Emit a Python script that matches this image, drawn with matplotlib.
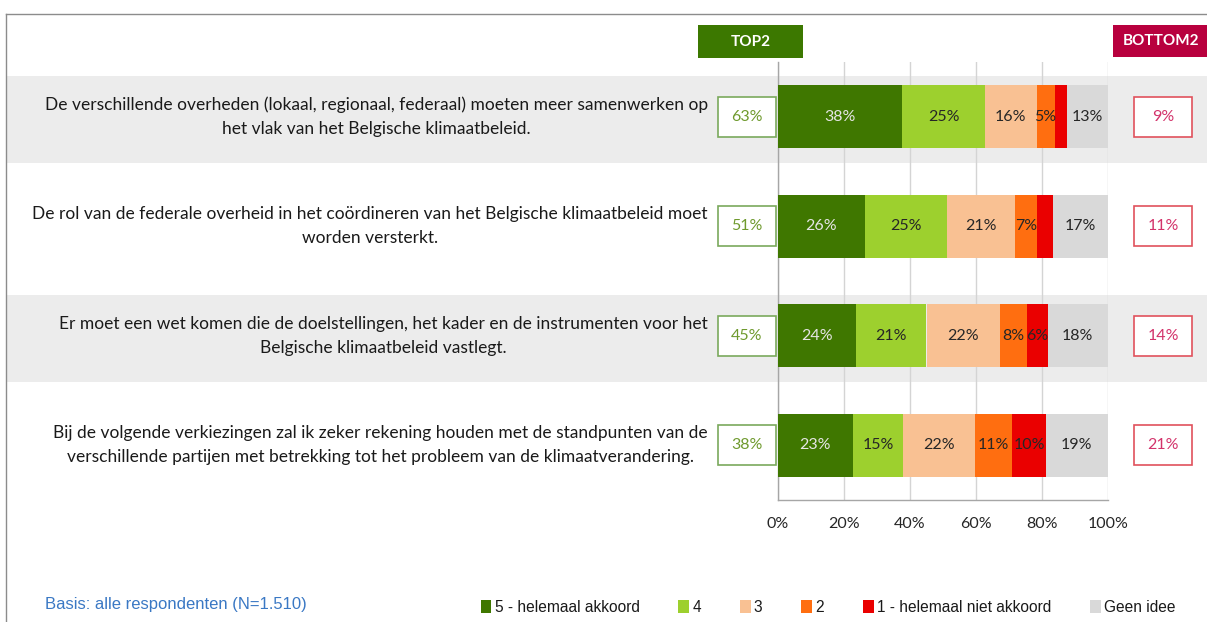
import matplotlib
matplotlib.use("Agg")
import matplotlib.pyplot as plt
from matplotlib.patches import Rectangle
from matplotlib.lines import Line2D
import matplotlib.transforms as mtransforms
import numpy as np

# ---------------- data ----------------
questions = [
    "De verschillende overheden (lokaal, regionaal, federaal) moeten meer samenwerken op\nhet vlak van het Belgische klimaatbeleid.",
    "De rol van de federale overheid in het coördineren van het Belgische klimaatbeleid moet\nworden versterkt.",
    "Er moet een wet komen die de doelstellingen, het kader en de instrumenten voor het\nBelgische klimaatbeleid vastlegt.",
    "Bij de volgende verkiezingen zal ik zeker rekening houden met de standpunten van de\nverschillende partijen met betrekking tot het probleem van de klimaatverandering.",
]
categories = ["5 - helemaal akkoord", "4", "3", "2", "1 - helemaal niet akkoord", "Geen idee"]
cat5 = [37.6, 26.3, 23.6, 22.6]
cat4 = [25.1, 24.8, 21.4, 15.4]
cat3 = [15.7, 20.7, 22.2, 21.7]
cat2 = [5.4, 6.8, 8.2, 11.3]
cat1 = [3.7, 4.6, 6.3, 10.1]
geen = [12.7, 16.8, 18.3, 18.9]
top2 = [63, 51, 45, 38]
bottom2 = [9, 11, 14, 21]
xticks = [0, 20, 40, 60, 80, 100]
xticklabels = ["0%", "20%", "40%", "60%", "80%", "100%"]

colors = ["#3f7700", "#9dd02e", "#f9c193", "#ff6e10", "#ea0000", "#d9d9d9"]
label_colors = ["#e6e6e6", "#262626", "#262626", "#262626", "#262626", "#262626"]

FONT = ["Lato", "DejaVu Sans"]
NARROW = ["Liberation Sans", "DejaVu Sans"]
plt.rcParams["font.family"] = FONT

W, H = 1207, 622
fig = plt.figure(figsize=(W / 100, H / 100), dpi=100)
fig.patch.set_facecolor("white")

ax_l, ax_r, ax_t, ax_b = 778, 1108, 62, 500
ax = fig.add_axes([ax_l / W, 1 - ax_b / H, (ax_r - ax_l) / W, (ax_b - ax_t) / H])
ax.set_facecolor("none")

series = [cat5, cat4, cat3, cat2, cat1, geen]
y = np.arange(len(questions))
left = np.zeros(len(questions))
bar_h = 0.575
for vals, col, lc in zip(series, colors, label_colors):
    vals = np.array(vals)
    bars = ax.barh(y, vals, left=left, height=bar_h, color=col, zorder=3, linewidth=0)
    for i, (b, v) in enumerate(zip(bars, vals)):
        if v >= 5:
            ax.text(left[i] + v / 2, y[i], f"{v:.0f}%", ha="center", va="center",
                    fontsize=11.5, color=lc, zorder=4)
    left = left + vals

ax.set_xlim(0, 100)
ax.set_ylim(3.5, -0.5)
ax.set_xticks(xticks)
ax.set_xticklabels(xticklabels, fontsize=11.5, color="#262626")
ax.set_yticks([])
ax.tick_params(axis="x", length=0, pad=12)
ax.grid(axis="x", color="#d4d4d4", linewidth=1, zorder=0)
ax.set_axisbelow(True)
for s in ["top", "right"]:
    ax.spines[s].set_visible(False)
for s in ["left", "bottom"]:
    ax.spines[s].set_color("#a6a6a6")
    ax.spines[s].set_linewidth(1)

# background bands
btrans = mtransforms.blended_transform_factory(fig.transFigure, ax.transData)
for i in [0, 2]:
    fig.add_artist(Rectangle((7 / W, i - 0.375), 1 - 7 / W, 0.795, transform=btrans,
                             facecolor="#ececec", edgecolor="none", zorder=-5))

# question text, top2/bottom2 boxes
for i, q in enumerate(questions):
    ax.text(-21.3, y[i], q, ha="right", va="center", multialignment="center",
            fontsize=12.5, color="#1a1a1a", linespacing=1.6, clip_on=False)
    ax.add_patch(Rectangle((-18.2, y[i] - 0.183), 17.6, 0.366, facecolor="white",
                           edgecolor="#7aa95c", linewidth=1.2, clip_on=False, zorder=5))
    ax.text(-9.4, y[i], f"{top2[i]}%", ha="center", va="center", fontsize=11.5,
            color="#6f9a2e", clip_on=False, zorder=6)
    ax.add_patch(Rectangle((107.9, y[i] - 0.183), 17.6, 0.366, facecolor="white",
                           edgecolor="#e0525c", linewidth=1.2, clip_on=False, zorder=5))
    ax.text(116.7, y[i], f"{bottom2[i]}%", ha="center", va="center", fontsize=11.5,
            color="#d3336b", clip_on=False, zorder=6)

# headers
fig.add_artist(Rectangle((698 / W, 1 - 58 / H), 105 / W, 33 / H, transform=fig.transFigure,
                         facecolor="#3c7800", edgecolor="none"))
fig.text(750.5 / W, 1 - 41.5 / H, "TOP2", ha="center", va="center", color="white",
         fontsize=11, fontweight="bold")
fig.add_artist(Rectangle((1113 / W, 1 - 57 / H), 94 / W, 32 / H, transform=fig.transFigure,
                         facecolor="#b8003e", edgecolor="none"))
fig.text(1161 / W, 1 - 41 / H, "BOTTOM2", ha="center", va="center", color="white",
         fontsize=11, fontweight="bold")

# border lines
fig.add_artist(Line2D([6 / W, 1], [1 - 14 / H, 1 - 14 / H], transform=fig.transFigure,
                      color="#8c8c8c", linewidth=1))
fig.add_artist(Line2D([6 / W, 6 / W], [0, 1 - 14 / H], transform=fig.transFigure,
                      color="#8c8c8c", linewidth=1))

# footer
fig.text(45 / W, 1 - 604 / H, "Basis: alle respondenten (N=1.510)", ha="left", va="center",
         color="#3a78c4", fontsize=12, family=NARROW)

handles = [Rectangle((0, 0), 1, 1, facecolor=c, edgecolor="none") for c in colors]
leg = fig.legend(handles, categories, loc="center", bbox_to_anchor=(828 / W, 1 - 607 / H),
                 ncol=6, frameon=False, handlelength=0.7, handleheight=0.9,
                 handletextpad=0.2, columnspacing=2.5, prop={"family": NARROW, "size": 11.2})
for t in leg.get_texts():
    t.set_color("#1a1a1a")

fig.savefig("out.png", dpi=100, facecolor="white")
